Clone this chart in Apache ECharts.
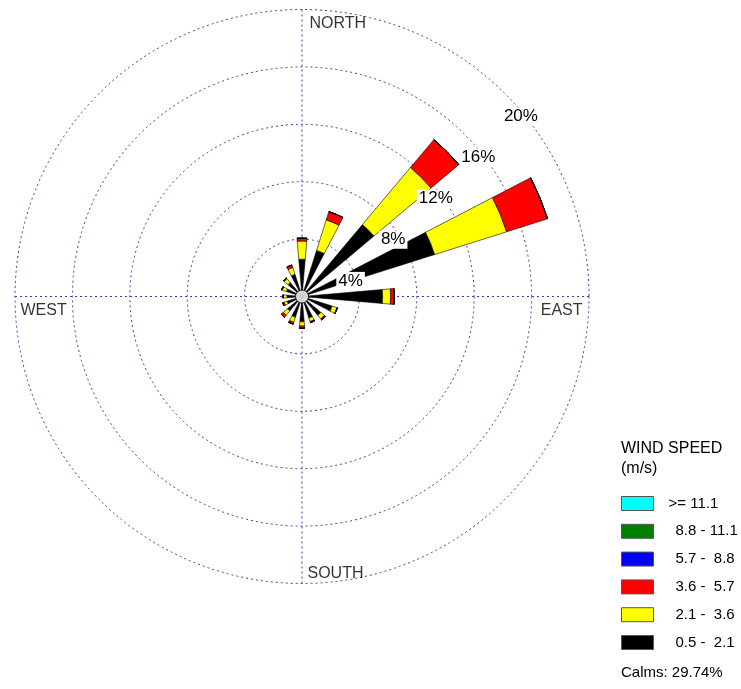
<!DOCTYPE html>
<html>
<head>
<meta charset="utf-8">
<script src="https://cdn.jsdelivr.net/npm/echarts@6/dist/echarts.min.js"></script>
<style>
  html, body { margin: 0; padding: 0; background: #fff; }
  #main { width: 741px; height: 689px; }
</style>
</head>
<body>
<div id="main"></div>
<script>
// 16 directions, clockwise from north
var directions = ['N', 'NNE', 'NE', 'ENE', 'E', 'ESE', 'SE', 'SSE', 'S', 'SSW', 'SW', 'WSW', 'W', 'WNW', 'NW', 'NNW'];

// frequency (%) per speed class
var spd05_21 = [2.60, 3.37, 6.55, 9.70, 5.62, 2.20, 1.72, 1.58, 1.76, 1.52, 1.33, 1.09, 1.05, 1.14, 1.28, 1.62];
var spd21_36 = [1.27, 2.23, 5.20, 5.26, 0.56, 0.35, 0.32, 0.25, 0.30, 0.36, 0.38, 0.22, 0.25, 0.30, 0.35, 0.50];
var spd36_57 = [0.20, 0.60, 2.53, 2.99, 0.25, 0.04, 0.09, 0.08, 0.16, 0.14, 0.19, 0.10, 0.03, 0.05, 0.05, 0.18];
var spd57_88 = [0, 0, 0, 0, 0, 0, 0, 0, 0, 0, 0, 0, 0, 0, 0, 0];
var spd88_111 = [0, 0, 0, 0, 0, 0, 0, 0, 0, 0, 0, 0, 0, 0, 0, 0];
var spd111 = [0, 0, 0, 0, 0, 0, 0, 0, 0, 0, 0, 0, 0, 0, 0, 0];

var classNames = ['0.5 -  2.1', '2.1 -  3.6', '3.6 -  5.7', '5.7 -  8.8', '8.8 - 11.1', '>= 11.1'];
var classColors = ['#000000', '#ffff00', '#ff0000', '#0000ff', '#008000', '#00ffff'];
var classData = [spd05_21, spd21_36, spd36_57, spd57_88, spd88_111, spd111];

var compassNames = ['NORTH', 'EAST', 'SOUTH', 'WEST'];
var compassAngles = [0, 90, 180, 270];
var calms = 29.74;

var gridColor = '#3c3ca8';
var myChart = echarts.init(document.getElementById('main'));

var series = [];
for (var i = 0; i < classData.length; i++) {
  series.push({
    name: classNames[i],
    type: 'bar',
    coordinateSystem: 'polar',
    polarIndex: 0,
    stack: 'wind',
    barWidth: '44%',
    data: classData[i],
    silent: true,
    itemStyle: { color: classColors[i], borderColor: '#000', borderWidth: 0.6 },
    z: 2
  });
}

// compass labels
var compassLabelPos = [
  { position: [8, 7], align: 'left', verticalAlign: 'top' },
  { position: [-6, 7], align: 'right', verticalAlign: 'top' },
  { position: [6, -1], align: 'left', verticalAlign: 'bottom' },
  { position: [6, 7], align: 'left', verticalAlign: 'top' }
];
series.push({
  type: 'scatter',
  coordinateSystem: 'polar',
  polarIndex: 1,
  symbolSize: 1,
  silent: true,
  itemStyle: { color: 'transparent' },
  data: compassNames.map(function (n, k) {
    return {
      name: n,
      value: [20, compassAngles[k]],
      label: Object.assign({
        show: true,
        formatter: '{b}',
        fontSize: 16,
        color: '#000',
        fontFamily: 'Liberation Sans, Arial, sans-serif'
      }, compassLabelPos[k])
    };
  }),
  z: 4
});

// calm circle in the middle
series.push({
  type: 'scatter',
  coordinateSystem: 'polar',
  polarIndex: 1,
  symbolSize: 13,
  silent: true,
  data: [[0, 0]],
  itemStyle: { color: '#fff', borderColor: '#000', borderWidth: 1 },
  z: 5
});

var option = {
  backgroundColor: '#fff',
  animation: false,
  textStyle: { fontFamily: 'Liberation Sans, Arial, sans-serif' },
  title: [
    {
      text: 'WIND SPEED\n(m/s)',
      left: 621,
      top: 439,
      padding: 0,
      textStyle: { fontSize: 16, fontWeight: 'normal', color: '#000', lineHeight: 20 }
    },
    {
      text: 'Calms: ' + calms.toFixed(2) + '%',
      left: 621,
      top: 665,
      padding: 0,
      textStyle: { fontSize: 15, fontWeight: 'normal', color: '#000' }
    }
  ],
  legend: {
    orient: 'vertical',
    left: 621,
    top: 496,
    padding: 0,
    itemWidth: 32,
    itemHeight: 14,
    itemGap: 12.8,
    selectedMode: false,
    icon: 'rect',
    data: classNames.slice().reverse(),
    itemStyle: { borderColor: '#555', borderWidth: 1 },
    formatter: function (name) {
      return name.charAt(0) === '>' ? '{a|' + name + '}' : '{b|' + name + '}';
    },
    textStyle: {
      fontSize: 15,
      color: '#000',
      lineHeight: 14,
      rich: {
        a: { fontSize: 15, padding: [0, 0, 0, 10], lineHeight: 14 },
        b: { fontSize: 15, padding: [0, 0, 0, 17], lineHeight: 14 }
      }
    }
  },
  polar: [
    { center: [302, 296.5], radius: 287 },
    { center: [302, 296.5], radius: 287 },
    { center: [308, 322], radius: 296 }
  ],
  angleAxis: [
    {
      polarIndex: 0,
      type: 'category',
      data: directions,
      startAngle: 101.25,
      clockwise: true,
      axisLine: { show: false },
      axisTick: { show: false },
      axisLabel: { show: false },
      splitLine: { show: false }
    },
    {
      polarIndex: 1,
      type: 'value',
      min: 0,
      max: 360,
      interval: 90,
      startAngle: 90,
      clockwise: true,
      axisLine: { show: false },
      axisTick: { show: false },
      axisLabel: { show: false },
      splitLine: { show: true, lineStyle: { color: gridColor, type: [2, 3], width: 1 } }
    },
    {
      polarIndex: 2,
      type: 'value',
      min: 0,
      max: 360,
      startAngle: 44,
      axisLine: { show: false },
      axisTick: { show: false },
      axisLabel: { show: false },
      splitLine: { show: false }
    }
  ],
  radiusAxis: [
    {
      polarIndex: 0,
      min: 0,
      max: 20,
      interval: 4,
      axisLine: { show: false },
      axisTick: { show: false },
      axisLabel: { show: false },
      splitLine: { show: true, lineStyle: { color: gridColor, type: [2, 3], width: 1 } }
    },
    {
      polarIndex: 1,
      min: 0,
      max: 20,
      axisLine: { show: false },
      axisTick: { show: false },
      axisLabel: { show: false },
      splitLine: { show: false }
    },
    {
      polarIndex: 2,
      min: 0,
      max: 20,
      interval: 4,
      z: 10,
      axisLine: { show: false },
      axisTick: { show: false },
      splitLine: { show: false },
      axisLabel: {
        show: true,
        showMinLabel: false,
        margin: 0,
        align: 'center',
        verticalAlign: 'middle',
        fontSize: 17,
        color: '#000',
        backgroundColor: '#fff',
        padding: [1, 2, 0, 2],
        formatter: function (v) { return v + '%'; }
      }
    }
  ],
  series: series
};
myChart.setOption(option);
</script>
</body>
</html>
